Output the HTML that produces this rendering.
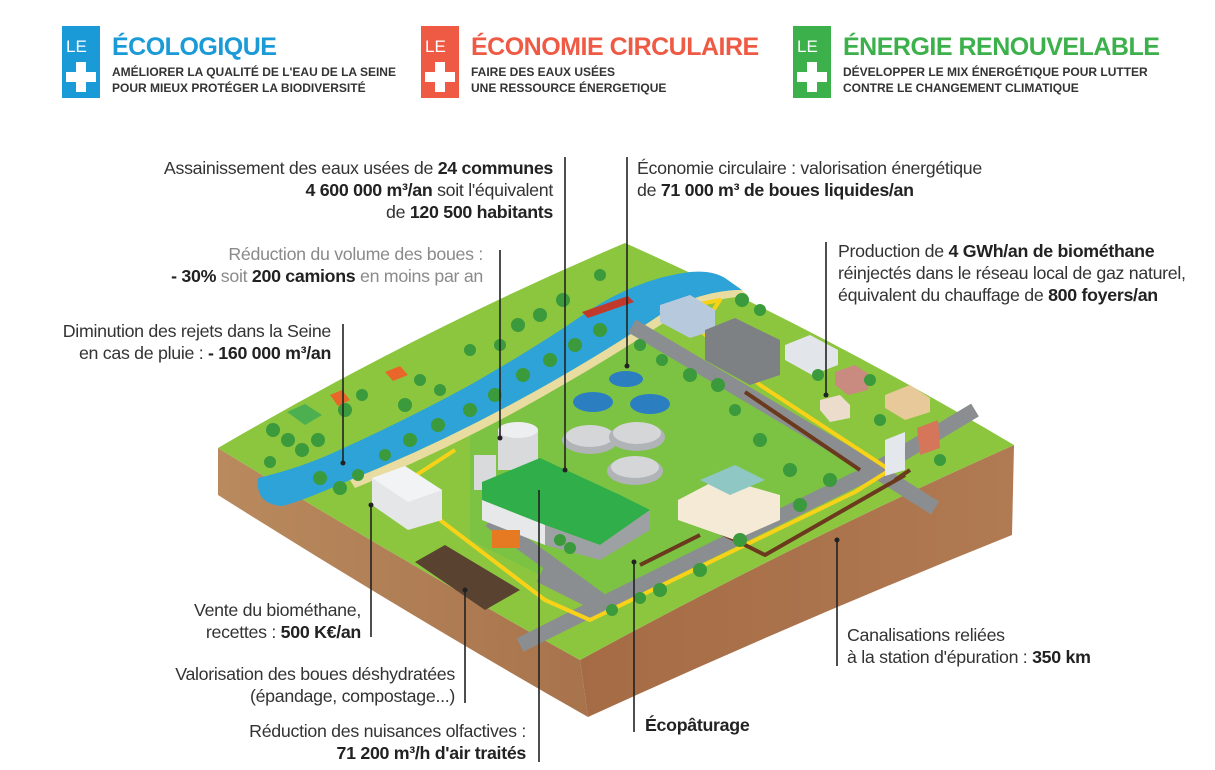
<!DOCTYPE html>
<html><head><meta charset="utf-8"><style>
body{margin:0;background:#fff;}
svg{display:block;font-family:"Liberation Sans",sans-serif;}
.t{font-size:17.8px;fill:#333;letter-spacing:-0.3px}
.g{fill:#8a8a8a}
.b{font-weight:bold;fill:#222}
.h{font-size:12px;font-weight:bold;fill:#333}
.ti{font-size:25px;font-weight:bold;letter-spacing:-0.5px}
.ln{stroke:#222;stroke-width:1.6;fill:none}
</style></head><body>
<svg width="1215" height="770" viewBox="0 0 1215 770">
<rect x="62" y="26" width="38" height="72" fill="#1a9ad6"/>
<text x="66" y="52" font-size="17" fill="#fff">LE</text>
<path d="M76 62h10v10h10v10h-10v10h-10v-10h-10v-10h10z" fill="#fff"/>
<text x="112" y="55" class="ti" fill="#1a9ad6">ÉCOLOGIQUE</text>
<text x="112" y="76" class="h">AMÉLIORER LA QUALITÉ DE L'EAU DE LA SEINE</text>
<text x="112" y="92" class="h">POUR MIEUX PROTÉGER LA BIODIVERSITÉ</text>
<rect x="421" y="26" width="38" height="72" fill="#ef5a45"/>
<text x="425" y="52" font-size="17" fill="#fff">LE</text>
<path d="M435 62h10v10h10v10h-10v10h-10v-10h-10v-10h10z" fill="#fff"/>
<text x="471" y="55" class="ti" fill="#ef5a45">ÉCONOMIE CIRCULAIRE</text>
<text x="471" y="76" class="h">FAIRE DES EAUX USÉES</text>
<text x="471" y="92" class="h">UNE RESSOURCE ÉNERGETIQUE</text>
<rect x="793" y="26" width="38" height="72" fill="#3cb04a"/>
<text x="797" y="52" font-size="17" fill="#fff">LE</text>
<path d="M807 62h10v10h10v10h-10v10h-10v-10h-10v-10h10z" fill="#fff"/>
<text x="843" y="55" class="ti" fill="#3cb04a">ÉNERGIE RENOUVELABLE</text>
<text x="843" y="76" class="h">DÉVELOPPER LE MIX ÉNERGÉTIQUE POUR LUTTER</text>
<text x="843" y="92" class="h">CONTRE LE CHANGEMENT CLIMATIQUE</text>

<defs>
<linearGradient id="sl" x1="0" x2="1"><stop offset="0" stop-color="#b98a5e"/><stop offset="1" stop-color="#a8734c"/></linearGradient>
<linearGradient id="sr" x1="0" x2="1"><stop offset="0" stop-color="#a56b45"/><stop offset="1" stop-color="#b07a52"/></linearGradient>
</defs>
<path d="M218 448 Q400 560 580 660 L588 717 Q400 610 218 495Z" fill="url(#sl)"/>
<path d="M580 660 Q800 540 1014 445 L1012 535 Q800 620 588 717Z" fill="url(#sr)"/>
<path d="M218 448 Q420 330 625 243 Q820 330 1014 445 Q800 540 580 660 Q400 560 218 448Z" fill="#8cc63f"/>
<path d="M470 430 L640 330 L880 470 L610 610 L470 540Z" fill="#7cc243"/>
<!-- river -->
<path d="M258 478 Q300 468 335 452 Q410 418 470 385 Q540 345 590 310 Q640 278 690 272 Q712 270 725 278 L742 290 Q700 290 660 315 Q590 362 510 405 Q430 448 350 480 Q300 502 282 506 Q255 504 258 478Z" fill="#2ea3d8"/>
<path d="M350 480 Q430 448 510 405 Q590 362 660 315 Q700 290 742 290 L748 296 Q705 298 665 322 Q595 368 515 412 Q435 455 355 488Z" fill="#e8dca0"/>
<path d="M582 312 L628 296 L634 302 L588 318Z" fill="#c0392b"/>
<g stroke="#8b8e90" stroke-width="15" fill="none" stroke-linejoin="round">
<path d="M632 326 L875 470 L600 605 L540 575"/>
<path d="M875 470 L975 410"/>
<path d="M875 470 L935 508"/>
<path d="M600 605 L520 645"/>
<path d="M490 520 L600 600"/>
</g>
<g fill="none" stroke-linejoin="round">
<path d="M440 520 L545 600 L590 620 L855 492 L890 470 L760 385 L700 330 L720 300 L660 312" stroke="#f7d218" stroke-width="4"/>
<path d="M370 505 L455 450" stroke="#f7d218" stroke-width="4"/>
<path d="M860 470 L745 392 M895 480 L910 470 M640 565 L700 535 M715 530 L765 555 L905 475" stroke="#6b3a1e" stroke-width="4"/>
</g>
<g>
<ellipse cx="590" cy="440" rx="28" ry="14" fill="#b0b4b6"/><ellipse cx="590" cy="436" rx="24" ry="11" fill="#d4d6d8"/>
<ellipse cx="637" cy="437" rx="28" ry="14" fill="#b0b4b6"/><ellipse cx="637" cy="433" rx="24" ry="11" fill="#d4d6d8"/>
<ellipse cx="635" cy="471" rx="28" ry="14" fill="#b0b4b6"/><ellipse cx="635" cy="467" rx="24" ry="11" fill="#d4d6d8"/>
<ellipse cx="593" cy="402" rx="20" ry="10" fill="#2b7fc1"/><ellipse cx="650" cy="404" rx="20" ry="10" fill="#2b7fc1"/>
<ellipse cx="626" cy="379" rx="17" ry="8" fill="#2b7fc1"/>
</g>
<rect x="498" y="430" width="40" height="40" fill="#d8dadb"/><ellipse cx="518" cy="430" rx="20" ry="8" fill="#eceeef"/>
<rect x="474" y="455" width="22" height="35" fill="#d8dadb"/>
<path d="M482 482 L540 458 L620 495 L650 510 L600 545 L545 525 L482 500Z" fill="#2fae4a"/>
<path d="M482 500 L545 525 L545 545 L482 520Z" fill="#e6e8ea"/>
<path d="M545 525 L600 545 L650 510 L650 530 L600 560 L545 545Z" fill="#9ea1a3"/>
<path d="M372 478 L405 466 L442 490 L442 520 L408 530 L372 505Z" fill="#e4e6e8"/><path d="M372 478 L405 466 L442 490 L408 502Z" fill="#f2f3f4"/>
<path d="M415 562 L445 545 L520 590 L485 610Z" fill="#5a4231"/>
<rect x="492" y="530" width="28" height="18" fill="#e57a22"/>
<path d="M678 500 L720 478 L780 495 L780 520 L735 540 L678 520Z" fill="#f4ead6"/><path d="M700 480 L735 465 L765 480 L730 495Z" fill="#8fc7c4"/>
<path d="M660 305 L690 295 L715 310 L715 330 L690 338 L660 322Z" fill="#b7c9dc"/>
<path d="M705 330 L735 318 L780 340 L780 375 L750 385 L705 360Z" fill="#7d8183"/>
<path d="M785 345 L810 335 L838 350 L838 365 L812 375 L785 360Z" fill="#e2e6ea"/>
<path d="M885 440 L905 432 L905 470 L885 476Z" fill="#e4e8ed"/>
<path d="M917 428 L938 420 L940 448 L920 455Z" fill="#d5765a"/>
<path d="M885 395 L910 385 L930 398 L930 412 L905 420 L885 408Z" fill="#e8c99a"/>
<path d="M835 372 L855 365 L870 375 L868 390 L848 395 L835 385Z" fill="#c98b80"/>
<path d="M820 400 L840 395 L850 405 L850 418 L830 422 L820 410Z" fill="#ecdccb"/>
<path d="M287 412 L305 404 L322 415 L305 425Z" fill="#4caf50"/><path d="M330 395 L342 390 L350 400 L338 406Z" fill="#e8662a"/><path d="M385 372 L400 366 L408 375 L393 381Z" fill="#e8662a"/>
<g fill="#3a9a3c">
<circle cx="273" cy="430" r="7"/><circle cx="288" cy="440" r="7"/><circle cx="302" cy="450" r="7"/><circle cx="270" cy="462" r="6"/><circle cx="318" cy="440" r="7"/><circle cx="345" cy="410" r="7"/><circle cx="362" cy="395" r="6"/><circle cx="420" cy="380" r="6"/><circle cx="405" cy="405" r="7"/><circle cx="440" cy="390" r="6"/><circle cx="470" cy="350" r="6"/><circle cx="518" cy="325" r="7"/><circle cx="540" cy="315" r="7"/><circle cx="500" cy="345" r="6"/><circle cx="563" cy="300" r="7"/><circle cx="600" cy="275" r="6"/>
<circle cx="320" cy="478" r="7"/><circle cx="340" cy="488" r="7"/><circle cx="358" cy="475" r="6"/><circle cx="385" cy="455" r="6"/><circle cx="410" cy="440" r="7"/><circle cx="438" cy="425" r="7"/><circle cx="470" cy="410" r="7"/><circle cx="495" cy="395" r="7"/><circle cx="523" cy="375" r="7"/><circle cx="550" cy="360" r="7"/><circle cx="575" cy="345" r="7"/><circle cx="600" cy="330" r="7"/>
<circle cx="640" cy="345" r="6"/><circle cx="662" cy="360" r="6"/><circle cx="690" cy="375" r="7"/><circle cx="718" cy="385" r="7"/><circle cx="735" cy="410" r="6"/><circle cx="760" cy="440" r="7"/><circle cx="790" cy="470" r="7"/><circle cx="742" cy="300" r="7"/><circle cx="760" cy="310" r="6"/><circle cx="818" cy="375" r="6"/><circle cx="870" cy="380" r="6"/><circle cx="940" cy="460" r="6"/><circle cx="880" cy="420" r="6"/>
<circle cx="660" cy="590" r="7"/><circle cx="700" cy="570" r="7"/><circle cx="740" cy="540" r="7"/><circle cx="800" cy="505" r="7"/><circle cx="830" cy="480" r="7"/><circle cx="560" cy="540" r="6"/><circle cx="570" cy="548" r="6"/><circle cx="640" cy="598" r="6"/><circle cx="612" cy="610" r="6"/>
</g>

<g class="ln">
<path d="M565 157V470"/><path d="M627 157V366"/><path d="M500 250V438"/><path d="M343 324V463"/><path d="M826 242V395"/>
<path d="M371 505V637"/><path d="M465 590V703"/><path d="M539 490V762"/><path d="M634 562V732"/><path d="M837 540V666"/>
</g>
<g fill="#222"><circle cx="565" cy="470" r="2.5"/><circle cx="627" cy="366" r="2.5"/><circle cx="500" cy="438" r="2.5"/><circle cx="343" cy="463" r="2.5"/><circle cx="826" cy="395" r="2.5"/><circle cx="371" cy="505" r="2.5"/><circle cx="465" cy="590" r="2.5"/><circle cx="634" cy="562" r="2.5"/><circle cx="837" cy="540" r="2.5"/></g>

<g class="t">
<text x="553" y="174" text-anchor="end">Assainissement des eaux usées de <tspan class="b">24 communes</tspan></text>
<text x="553" y="196" text-anchor="end"><tspan class="b">4 600 000 m³/an</tspan> soit l'équivalent</text>
<text x="553" y="218" text-anchor="end">de <tspan class="b">120 500 habitants</tspan></text>
<text x="637" y="174">Économie circulaire : valorisation énergétique</text>
<text x="637" y="196">de <tspan class="b">71 000 m³ de boues liquides/an</tspan></text>
<text x="483" y="260" text-anchor="end" class="g">Réduction du volume des boues :</text>
<text x="483" y="282" text-anchor="end"><tspan class="b">- 30%</tspan><tspan class="g"> soit </tspan><tspan class="b">200 camions</tspan><tspan class="g"> en moins par an</tspan></text>
<text x="331" y="337" text-anchor="end">Diminution des rejets dans la Seine</text>
<text x="331" y="359" text-anchor="end">en cas de pluie : <tspan class="b">- 160 000 m³/an</tspan></text>
<text x="838" y="257">Production de <tspan class="b">4 GWh/an de biométhane</tspan></text>
<text x="838" y="279">réinjectés dans le réseau local de gaz naturel,</text>
<text x="838" y="301">équivalent du chauffage de <tspan class="b">800 foyers/an</tspan></text>
<text x="361" y="616" text-anchor="end">Vente du biométhane,</text>
<text x="361" y="638" text-anchor="end">recettes : <tspan class="b">500 K€/an</tspan></text>
<text x="455" y="680" text-anchor="end">Valorisation des boues déshydratées</text>
<text x="455" y="702" text-anchor="end">(épandage, compostage...)</text>
<text x="526" y="737" text-anchor="end">Réduction des nuisances olfactives :</text>
<text x="526" y="759" text-anchor="end" class="b">71 200 m³/h d'air traités</text>
<text x="645" y="731" class="b">Écopâturage</text>
<text x="847" y="641">Canalisations reliées</text>
<text x="847" y="663">à la station d'épuration : <tspan class="b">350 km</tspan></text>
</g>
</svg>
</body></html>
